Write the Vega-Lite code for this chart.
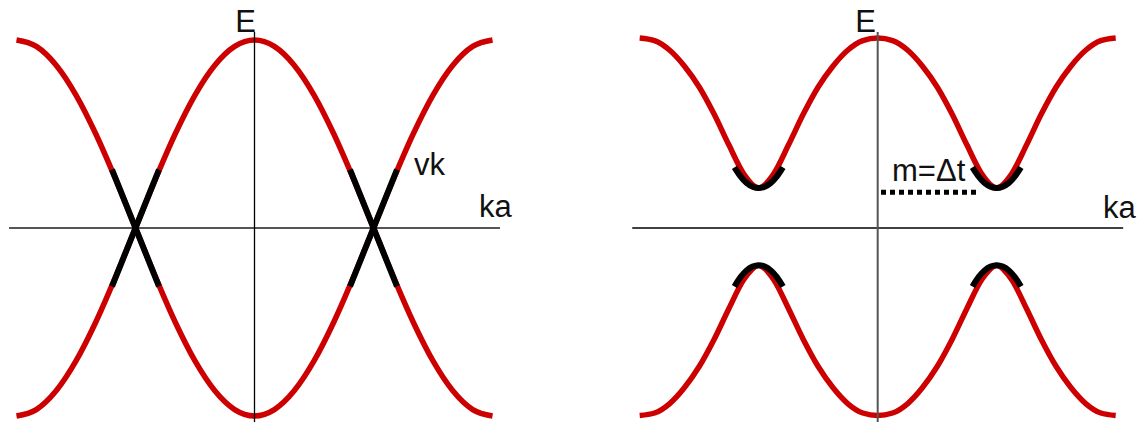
{
  "$schema": "https://vega.github.io/schema/vega-lite/v6.json",
  "background": "white",
  "padding": 0,
  "spacing": 100,
  "bounds": "flush",
  "config": {"view": {"stroke": null}, "text": {"font": "Liberation Sans", "fontSize": 31, "color": "#111111", "baseline": "alphabetic"}},
  "datasets": {
    "gapless": [
      {"ka": -3.1416, "E": -1, "band": "cos"}, {"ka": -2.8798, "E": -0.9659, "band": "cos"}, {"ka": -2.618, "E": -0.866, "band": "cos"},
      {"ka": -2.3562, "E": -0.7071, "band": "cos"}, {"ka": -2.0944, "E": -0.5, "band": "cos"}, {"ka": -1.8326, "E": -0.2588, "band": "cos"},
      {"ka": -1.5708, "E": 0, "band": "cos"}, {"ka": -1.309, "E": 0.2588, "band": "cos"}, {"ka": -1.0472, "E": 0.5, "band": "cos"},
      {"ka": -0.7854, "E": 0.7071, "band": "cos"}, {"ka": -0.5236, "E": 0.866, "band": "cos"}, {"ka": -0.2618, "E": 0.9659, "band": "cos"},
      {"ka": 0, "E": 1, "band": "cos"}, {"ka": 0.2618, "E": 0.9659, "band": "cos"}, {"ka": 0.5236, "E": 0.866, "band": "cos"},
      {"ka": 0.7854, "E": 0.7071, "band": "cos"}, {"ka": 1.0472, "E": 0.5, "band": "cos"}, {"ka": 1.309, "E": 0.2588, "band": "cos"},
      {"ka": 1.5708, "E": 0, "band": "cos"}, {"ka": 1.8326, "E": -0.2588, "band": "cos"}, {"ka": 2.0944, "E": -0.5, "band": "cos"},
      {"ka": 2.3562, "E": -0.7071, "band": "cos"}, {"ka": 2.618, "E": -0.866, "band": "cos"}, {"ka": 2.8798, "E": -0.9659, "band": "cos"},
      {"ka": 3.1416, "E": -1, "band": "cos"},
      {"ka": -3.1416, "E": 1, "band": "negcos"}, {"ka": -2.8798, "E": 0.9659, "band": "negcos"}, {"ka": -2.618, "E": 0.866, "band": "negcos"},
      {"ka": -2.3562, "E": 0.7071, "band": "negcos"}, {"ka": -2.0944, "E": 0.5, "band": "negcos"}, {"ka": -1.8326, "E": 0.2588, "band": "negcos"},
      {"ka": -1.5708, "E": 0, "band": "negcos"}, {"ka": -1.309, "E": -0.2588, "band": "negcos"}, {"ka": -1.0472, "E": -0.5, "band": "negcos"},
      {"ka": -0.7854, "E": -0.7071, "band": "negcos"}, {"ka": -0.5236, "E": -0.866, "band": "negcos"}, {"ka": -0.2618, "E": -0.9659, "band": "negcos"},
      {"ka": 0, "E": -1, "band": "negcos"}, {"ka": 0.2618, "E": -0.9659, "band": "negcos"}, {"ka": 0.5236, "E": -0.866, "band": "negcos"},
      {"ka": 0.7854, "E": -0.7071, "band": "negcos"}, {"ka": 1.0472, "E": -0.5, "band": "negcos"}, {"ka": 1.309, "E": -0.2588, "band": "negcos"},
      {"ka": 1.5708, "E": 0, "band": "negcos"}, {"ka": 1.8326, "E": 0.2588, "band": "negcos"}, {"ka": 2.0944, "E": 0.5, "band": "negcos"},
      {"ka": 2.3562, "E": 0.7071, "band": "negcos"}, {"ka": 2.618, "E": 0.866, "band": "negcos"}, {"ka": 2.8798, "E": 0.9659, "band": "negcos"},
      {"ka": 3.1416, "E": 1, "band": "negcos"}
    ],
    "dirac": [
      {"ka": -1.8808, "E": -0.31, "seg": "L1"}, {"ka": -1.2608, "E": 0.31, "seg": "L1"},
      {"ka": -1.8808, "E": 0.31, "seg": "L2"}, {"ka": -1.2608, "E": -0.31, "seg": "L2"},
      {"ka": 1.2608, "E": 0.31, "seg": "R1"}, {"ka": 1.8808, "E": -0.31, "seg": "R1"},
      {"ka": 1.2608, "E": -0.31, "seg": "R2"}, {"ka": 1.8808, "E": 0.31, "seg": "R2"}
    ],
    "gapped": [
      {"ka": -3.1416, "E": 1.011, "band": "upper"}, {"ka": -2.9452, "E": 0.997, "band": "upper"}, {"ka": -2.7489, "E": 0.947, "band": "upper"},
      {"ka": -2.5525, "E": 0.862, "band": "upper"}, {"ka": -2.3562, "E": 0.75, "band": "upper"}, {"ka": -2.1598, "E": 0.606, "band": "upper"},
      {"ka": -1.9635, "E": 0.441, "band": "upper"}, {"ka": -1.7671, "E": 0.287, "band": "upper"}, {"ka": -1.5708, "E": 0.2128, "band": "upper"},
      {"ka": -1.3744, "E": 0.287, "band": "upper"}, {"ka": -1.1781, "E": 0.441, "band": "upper"}, {"ka": -0.9817, "E": 0.606, "band": "upper"},
      {"ka": -0.7854, "E": 0.75, "band": "upper"}, {"ka": -0.589, "E": 0.862, "band": "upper"}, {"ka": -0.3927, "E": 0.947, "band": "upper"},
      {"ka": -0.1963, "E": 0.997, "band": "upper"}, {"ka": 0, "E": 1.011, "band": "upper"}, {"ka": 0.1963, "E": 0.997, "band": "upper"},
      {"ka": 0.3927, "E": 0.947, "band": "upper"}, {"ka": 0.589, "E": 0.862, "band": "upper"}, {"ka": 0.7854, "E": 0.75, "band": "upper"},
      {"ka": 0.9817, "E": 0.606, "band": "upper"}, {"ka": 1.1781, "E": 0.441, "band": "upper"}, {"ka": 1.3744, "E": 0.287, "band": "upper"},
      {"ka": 1.5708, "E": 0.2128, "band": "upper"}, {"ka": 1.7671, "E": 0.287, "band": "upper"}, {"ka": 1.9635, "E": 0.441, "band": "upper"},
      {"ka": 2.1598, "E": 0.606, "band": "upper"}, {"ka": 2.3562, "E": 0.75, "band": "upper"}, {"ka": 2.5525, "E": 0.862, "band": "upper"},
      {"ka": 2.7489, "E": 0.947, "band": "upper"}, {"ka": 2.9452, "E": 0.997, "band": "upper"}, {"ka": 3.1416, "E": 1.011, "band": "upper"},
      {"ka": -3.1416, "E": -0.997, "band": "lower"}, {"ka": -2.9452, "E": -0.984, "band": "lower"}, {"ka": -2.7489, "E": -0.935, "band": "lower"},
      {"ka": -2.5525, "E": -0.85, "band": "lower"}, {"ka": -2.3562, "E": -0.737, "band": "lower"}, {"ka": -2.1598, "E": -0.593, "band": "lower"},
      {"ka": -1.9635, "E": -0.428, "band": "lower"}, {"ka": -1.7671, "E": -0.274, "band": "lower"}, {"ka": -1.5708, "E": -0.199, "band": "lower"},
      {"ka": -1.3744, "E": -0.274, "band": "lower"}, {"ka": -1.1781, "E": -0.428, "band": "lower"}, {"ka": -0.9817, "E": -0.593, "band": "lower"},
      {"ka": -0.7854, "E": -0.737, "band": "lower"}, {"ka": -0.589, "E": -0.85, "band": "lower"}, {"ka": -0.3927, "E": -0.935, "band": "lower"},
      {"ka": -0.1963, "E": -0.984, "band": "lower"}, {"ka": 0, "E": -0.997, "band": "lower"}, {"ka": 0.1963, "E": -0.984, "band": "lower"},
      {"ka": 0.3927, "E": -0.935, "band": "lower"}, {"ka": 0.589, "E": -0.85, "band": "lower"}, {"ka": 0.7854, "E": -0.737, "band": "lower"},
      {"ka": 0.9817, "E": -0.593, "band": "lower"}, {"ka": 1.1781, "E": -0.428, "band": "lower"}, {"ka": 1.3744, "E": -0.274, "band": "lower"},
      {"ka": 1.5708, "E": -0.199, "band": "lower"}, {"ka": 1.7671, "E": -0.274, "band": "lower"}, {"ka": 1.9635, "E": -0.428, "band": "lower"},
      {"ka": 2.1598, "E": -0.593, "band": "lower"}, {"ka": 2.3562, "E": -0.737, "band": "lower"}, {"ka": 2.5525, "E": -0.85, "band": "lower"},
      {"ka": 2.7489, "E": -0.935, "band": "lower"}, {"ka": 2.9452, "E": -0.984, "band": "lower"}, {"ka": 3.1416, "E": -0.997, "band": "lower"}
    ],
    "massive": [
      {"ka": -1.8908, "E": 0.323, "seg": "UL"}, {"ka": -1.8108, "E": 0.275, "seg": "UL"}, {"ka": -1.7308, "E": 0.24, "seg": "UL"},
      {"ka": -1.6508, "E": 0.22, "seg": "UL"}, {"ka": -1.5708, "E": 0.2128, "seg": "UL"}, {"ka": -1.4908, "E": 0.22, "seg": "UL"},
      {"ka": -1.4108, "E": 0.24, "seg": "UL"}, {"ka": -1.3308, "E": 0.275, "seg": "UL"}, {"ka": -1.2508, "E": 0.323, "seg": "UL"},
      {"ka": 1.2508, "E": 0.323, "seg": "UR"}, {"ka": 1.3308, "E": 0.275, "seg": "UR"}, {"ka": 1.4108, "E": 0.24, "seg": "UR"},
      {"ka": 1.4908, "E": 0.22, "seg": "UR"}, {"ka": 1.5708, "E": 0.2128, "seg": "UR"}, {"ka": 1.6508, "E": 0.22, "seg": "UR"},
      {"ka": 1.7308, "E": 0.24, "seg": "UR"}, {"ka": 1.8108, "E": 0.275, "seg": "UR"}, {"ka": 1.8908, "E": 0.323, "seg": "UR"},
      {"ka": -1.8908, "E": -0.311, "seg": "LL"}, {"ka": -1.8108, "E": -0.261, "seg": "LL"}, {"ka": -1.7308, "E": -0.226, "seg": "LL"},
      {"ka": -1.6508, "E": -0.205, "seg": "LL"}, {"ka": -1.5708, "E": -0.198, "seg": "LL"}, {"ka": -1.4908, "E": -0.205, "seg": "LL"},
      {"ka": -1.4108, "E": -0.226, "seg": "LL"}, {"ka": -1.3308, "E": -0.261, "seg": "LL"}, {"ka": -1.2508, "E": -0.311, "seg": "LL"},
      {"ka": 1.2508, "E": -0.311, "seg": "LR"}, {"ka": 1.3308, "E": -0.261, "seg": "LR"}, {"ka": 1.4108, "E": -0.226, "seg": "LR"},
      {"ka": 1.4908, "E": -0.205, "seg": "LR"}, {"ka": 1.5708, "E": -0.198, "seg": "LR"}, {"ka": 1.6508, "E": -0.205, "seg": "LR"},
      {"ka": 1.7308, "E": -0.226, "seg": "LR"}, {"ka": 1.8108, "E": -0.261, "seg": "LR"}, {"ka": 1.8908, "E": -0.311, "seg": "LR"}
    ],
    "kTicks": [
      {"ka": -3.1416}, {"ka": -2.9452}, {"ka": -2.7489}, {"ka": -2.5525}, {"ka": -2.3562}, {"ka": -2.1598}, {"ka": -1.9635}, {"ka": -1.7671},
      {"ka": -1.5708}, {"ka": -1.3744}, {"ka": -1.1781}, {"ka": -0.9817}, {"ka": -0.7854}, {"ka": -0.589}, {"ka": -0.3927}, {"ka": -0.1963},
      {"ka": 0.1963}, {"ka": 0.3927}, {"ka": 0.589}, {"ka": 0.7854}, {"ka": 0.9817}, {"ka": 1.1781}, {"ka": 1.3744}, {"ka": 1.5708},
      {"ka": 1.7671}, {"ka": 1.9635}, {"ka": 2.1598}, {"ka": 2.3562}, {"ka": 2.5525}, {"ka": 2.7489}, {"ka": 2.9452}, {"ka": 3.1416}
    ],
    "eTicks": [
      {"E": -1.0}, {"E": -0.9}, {"E": -0.8}, {"E": -0.7}, {"E": -0.6}, {"E": -0.5}, {"E": -0.4}, {"E": -0.3}, {"E": -0.2}, {"E": -0.1},
      {"E": 0.1}, {"E": 0.2}, {"E": 0.3}, {"E": 0.4}, {"E": 0.5}, {"E": 0.6}, {"E": 0.7}, {"E": 0.8}, {"E": 0.9}, {"E": 1.0}
    ],
    "axisLines": [
      {"ka": -3.24, "ka2": 3.24, "E": 0, "E2": 0, "dir": "k"},
      {"ka": 0, "ka2": 0, "E": 1.0426, "E2": -1.04, "dir": "E"}
    ],
    "labelsLeft": [
      {"ka": 0.02, "E": 1.0426, "text": "E", "side": "end"},
      {"ka": 2.963, "E": 0.0585, "text": "ka", "side": "start"},
      {"ka": 2.105, "E": 0.282, "text": "vk", "side": "start"}
    ],
    "labelsRight": [
      {"ka": -0.022, "E": 1.0426, "text": "E", "side": "end"},
      {"ka": 2.974, "E": 0.053, "text": "ka", "side": "start"},
      {"ka": 0.189, "E": 0.25, "text": "m=Δt", "side": "start"}
    ],
    "gap": [{"ka": 0.0436, "ka2": 1.35, "E": 0.19}]
  },
  "hconcat": [
    {
      "width": 520,
      "height": 422,
      "encoding": {
        "x": {"field": "ka", "type": "quantitative", "scale": {"domain": [-3.3593, 3.5045], "nice": false, "zero": false}, "axis": null},
        "y": {"field": "E", "type": "quantitative", "scale": {"domain": [-1.0319, 1.2128], "nice": false, "zero": false}, "axis": null}
      },
      "layer": [
        {
          "data": {"name": "gapless"},
          "mark": {"type": "line", "color": "#cc0000", "strokeWidth": 5.5, "interpolate": "monotone", "strokeCap": "butt"},
          "encoding": {"detail": {"field": "band"}}
        },
        {
          "data": {"name": "axisLines"},
          "transform": [{"filter": "datum.dir === 'k'"}],
          "mark": {"type": "rule", "color": "#555555", "strokeWidth": 2},
          "encoding": {"x2": {"field": "ka2"}, "y2": {"field": "E2"}}
        },
        {
          "data": {"name": "axisLines"},
          "transform": [{"filter": "datum.dir === 'E'"}],
          "mark": {"type": "rule", "color": "#000000", "strokeWidth": 1.3},
          "encoding": {"x2": {"field": "ka2"}, "y2": {"field": "E2"}}
        },
        {
          "data": {"name": "kTicks"},
          "mark": {"type": "rule", "color": "#b0b0b0", "strokeWidth": 1},
          "encoding": {"y": {"datum": 0}, "y2": {"datum": 0.016}}
        },
        {
          "data": {"name": "eTicks"},
          "mark": {"type": "rule", "color": "#b0b0b0", "strokeWidth": 1},
          "encoding": {"x": {"datum": 0.01}, "x2": {"datum": 0.05}}
        },
        {
          "data": {"name": "dirac"},
          "mark": {"type": "line", "color": "#000000", "strokeWidth": 6, "strokeCap": "butt"},
          "encoding": {"detail": {"field": "seg"}}
        },
        {
          "data": {"name": "labelsLeft"},
          "transform": [{"filter": "datum.side === 'end'"}],
          "mark": {"type": "text", "align": "right"},
          "encoding": {"text": {"field": "text"}}
        },
        {
          "data": {"name": "labelsLeft"},
          "transform": [{"filter": "datum.side === 'start'"}],
          "mark": {"type": "text", "align": "left"},
          "encoding": {"text": {"field": "text"}}
        }
      ]
    },
    {
      "width": 517,
      "height": 422,
      "encoding": {
        "x": {"field": "ka", "type": "quantitative", "scale": {"domain": [-3.4015, 3.4227], "nice": false, "zero": false}, "axis": null},
        "y": {"field": "E", "type": "quantitative", "scale": {"domain": [-1.0319, 1.2128], "nice": false, "zero": false}, "axis": null}
      },
      "layer": [
        {
          "data": {"name": "gapped"},
          "mark": {"type": "line", "color": "#cc0000", "strokeWidth": 5.5, "interpolate": "monotone", "strokeCap": "butt"},
          "encoding": {"detail": {"field": "band"}}
        },
        {
          "data": {"name": "axisLines"},
          "transform": [{"filter": "datum.dir === 'k'"}],
          "mark": {"type": "rule", "color": "#000000", "strokeWidth": 1.3},
          "encoding": {"x2": {"field": "ka2"}, "y2": {"field": "E2"}}
        },
        {
          "data": {"name": "axisLines"},
          "transform": [{"filter": "datum.dir === 'E'"}],
          "mark": {"type": "rule", "color": "#555555", "strokeWidth": 2},
          "encoding": {"x2": {"field": "ka2"}, "y2": {"field": "E2"}}
        },
        {
          "data": {"name": "kTicks"},
          "mark": {"type": "rule", "color": "#b0b0b0", "strokeWidth": 1},
          "encoding": {"y": {"datum": 0}, "y2": {"datum": 0.016}}
        },
        {
          "data": {"name": "eTicks"},
          "mark": {"type": "rule", "color": "#b0b0b0", "strokeWidth": 1},
          "encoding": {"x": {"datum": 0.01}, "x2": {"datum": 0.05}}
        },
        {
          "data": {"name": "massive"},
          "mark": {"type": "line", "color": "#000000", "strokeWidth": 6, "strokeCap": "butt", "interpolate": "monotone"},
          "encoding": {"detail": {"field": "seg"}}
        },
        {
          "data": {"name": "gap"},
          "mark": {"type": "rule", "color": "#000000", "strokeWidth": 5, "strokeDash": [5, 4]},
          "encoding": {"x2": {"field": "ka2"}}
        },
        {
          "data": {"name": "labelsRight"},
          "transform": [{"filter": "datum.side === 'end'"}],
          "mark": {"type": "text", "align": "right"},
          "encoding": {"text": {"field": "text"}}
        },
        {
          "data": {"name": "labelsRight"},
          "transform": [{"filter": "datum.side === 'start'"}],
          "mark": {"type": "text", "align": "left"},
          "encoding": {"text": {"field": "text"}}
        }
      ]
    }
  ]
}
